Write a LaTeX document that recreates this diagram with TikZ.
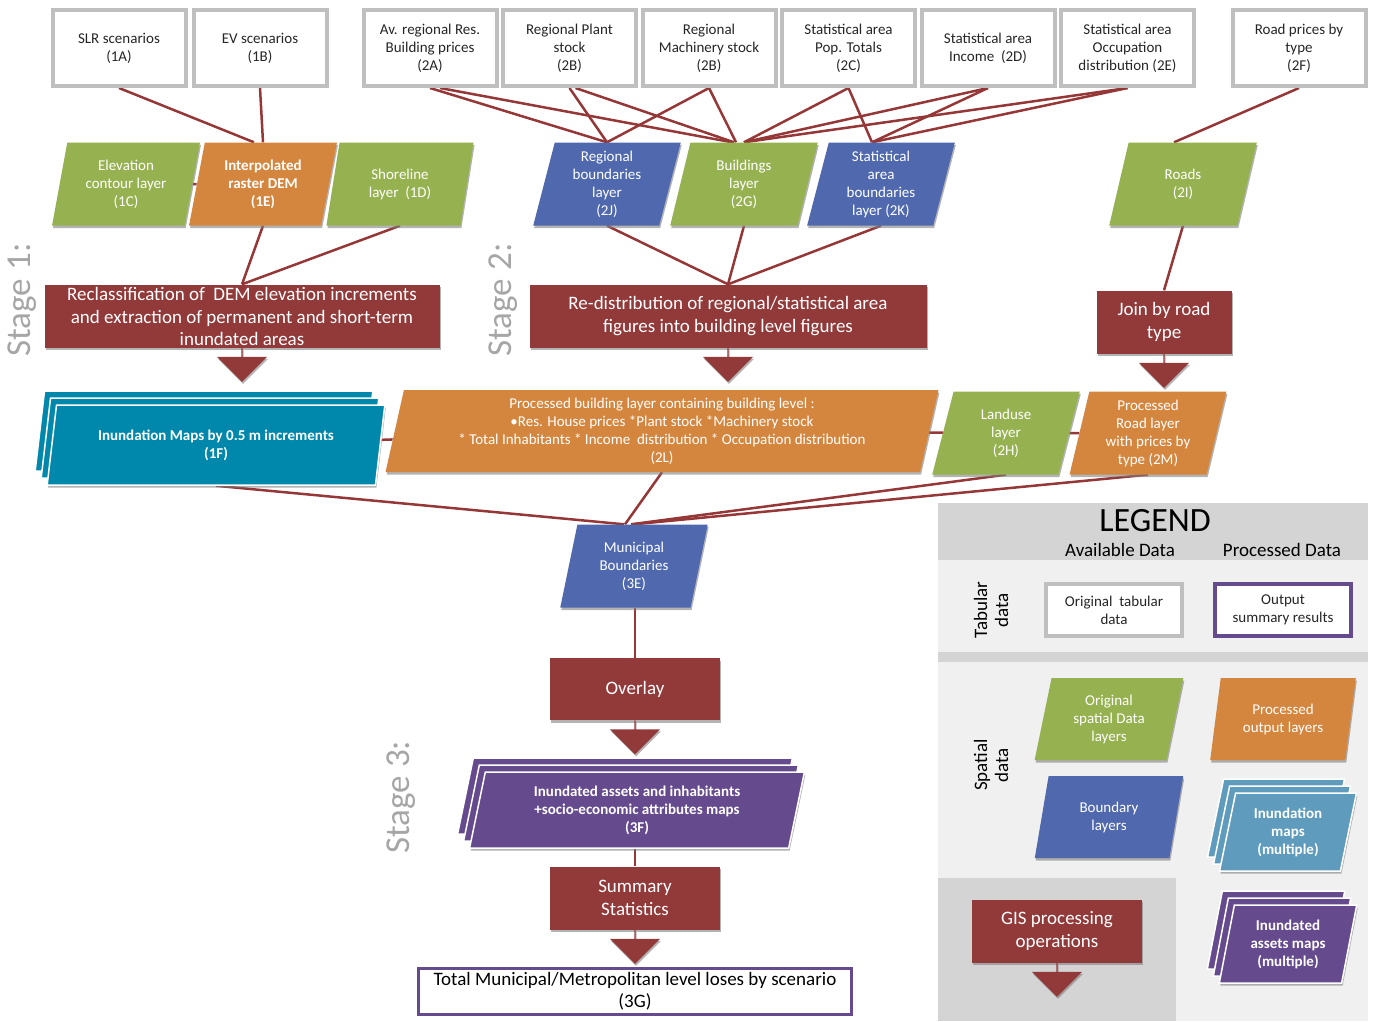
\documentclass[tikz,border=0pt]{standalone}
\usepackage{fontspec}
\setmainfont{Carlito}
\usepackage{tikz}
\usetikzlibrary{shapes.geometric,shapes.arrows,arrows,positioning,backgrounds,shadows}
\definecolor{procred}{RGB}{146,57,57}
\definecolor{linkred}{RGB}{150,55,55}
\definecolor{layergreen}{RGB}{150,178,80}
\definecolor{layerorange}{RGB}{213,134,62}
\definecolor{layerblue}{RGB}{80,105,174}
\definecolor{mapcyan}{RGB}{0,136,172}
\definecolor{mapblue}{RGB}{94,155,189}
\definecolor{mappurple}{RGB}{102,74,142}
\definecolor{boxgray}{RGB}{191,191,191}
\definecolor{stagegray}{RGB}{166,166,166}
\definecolor{legenddark}{RGB}{212,212,212}
\definecolor{legendlight}{RGB}{240,240,240}
\definecolor{textdark}{RGB}{38,38,38}

\begin{document}
\begin{tikzpicture}[x=1pt, y=-1pt, node distance=140pt]
\tikzstyle{tablebox} = [rectangle, draw=boxgray, line width=4pt, fill=white, minimum width=133pt, minimum height=76pt, inner sep=2pt, align=center, text=textdark, font=\fontsize{15}{18}\selectfont]
\tikzstyle{layerbox} = [trapezium, trapezium left angle=78, trapezium right angle=102, trapezium stretches=true, minimum width=148pt, minimum height=83pt, inner sep=1pt, align=center, text=white, font=\fontsize{15}{18}\selectfont, drop shadow={shadow xshift=1pt, shadow yshift=-2.5pt, opacity=.6}]
\tikzstyle{boldlayer} = [layerbox, font=\fontsize{15}{18}\selectfont\bfseries]
\tikzstyle{process} = [rectangle, fill=procred, minimum height=63pt, inner sep=3pt, align=center, text=white, font=\fontsize{19}{22.5}\selectfont, drop shadow={shadow xshift=1pt, shadow yshift=-2.5pt, opacity=.6}]
\tikzstyle{downarrow} = [single arrow, fill=procred, shape border rotate=270, minimum width=50pt, minimum height=34pt, single arrow head extend=8pt, inner sep=0pt, drop shadow={shadow xshift=1pt, shadow yshift=-2pt, opacity=.6}]
\tikzstyle{link} = [draw=linkred, line width=2.5pt]
\tikzstyle{stagelabel} = [rotate=90, text=stagegray, font=\fontsize{35}{35}\selectfont]
\tikzset{mapstack/.style={boldlayer, fill=#1, draw=white, line width=1.5pt, double copy shadow={shadow xshift=-6pt, shadow yshift=7pt, fill=#1, draw=white}}}
\useasboundingbox (0,0) rectangle (1375,1021);

% legend panel
\fill[legendlight] (938,503) rectangle (1368,1021);
\fill[legenddark] (938,503) rectangle (1368,560);
\fill[legenddark] (938,652) rectangle (1368,662);
\fill[legenddark] (938,878) rectangle (1176,1021);

% stage 1 and 2 inputs
\node (SLR) [tablebox] at (119,48) {SLR scenarios\\(1A)};
\node (EV) [tablebox, right of=SLR, node distance=141pt] {EV scenarios\\(1B)};
\node (BldPrices) [tablebox] at (430,48) {Av. regional Res.\\Building prices\\(2A)};
\node (PlantStock) [tablebox, right of=BldPrices, node distance=139.5pt] {Regional Plant\\stock\\(2B)};
\node (MachStock) [tablebox, right of=PlantStock, node distance=139.5pt] {Regional\\Machinery stock\\(2B)};
\node (PopTotals) [tablebox, right of=MachStock, node distance=139.5pt] {Statistical area\\Pop. Totals\\(2C)};
\node (Income) [tablebox, right of=PopTotals, node distance=139.5pt] {Statistical area\\Income~ (2D)};
\node (Occupation) [tablebox, right of=Income, node distance=139.5pt] {Statistical area\\Occupation\\distribution (2E)};
\node (RoadPrices) [tablebox] at (1299,48) {Road prices by\\type\\(2F)};

\node (Elevation) [layerbox, fill=layergreen] at (126,184) {Elevation\\contour layer\\(1C)};
\node (DEM) [boldlayer, fill=layerorange, right of=Elevation, node distance=137pt] {Interpolated\\raster DEM\\(1E)};
\node (Shoreline) [layerbox, fill=layergreen, right of=DEM, node distance=137pt] {Shoreline\\layer~ (1D)};
\node (RegBound) [layerbox, fill=layerblue] at (607,184) {Regional\\boundaries\\layer\\(2J)};
\node (Buildings) [layerbox, fill=layergreen, right of=RegBound, node distance=137pt] {Buildings\\layer\\(2G)};
\node (StatBound) [layerbox, fill=layerblue, right of=Buildings, node distance=137pt] {Statistical\\area\\boundaries\\layer (2K)};
\node (Roads) [layerbox, fill=layergreen] at (1183,184) {Roads\\(2I)};

% gis operations
\node (Reclass) [process, minimum width=395pt, inner ysep=0pt, text height=61pt, text depth=2pt] at (242,316) {Reclassification of~ DEM elevation increments\\and extraction of permanent and short-term\\inundated areas};
\node (Redist) [process, minimum width=397pt] at (728,316) {Re-distribution of regional/statistical area\\figures into building level figures};
\node (JoinRoad) [process, minimum width=135pt] at (1164,322) {Join by road\\type};
\node (ReclassArrow) [downarrow, anchor=tail] at (Reclass.south) {};
\node (RedistArrow) [downarrow, anchor=tail] at (Redist.south) {};
\node (JoinArrow) [downarrow, anchor=tail] at (JoinRoad.south) {};

% processed layers
\node (InundMaps) [mapstack=mapcyan, minimum width=338pt, minimum height=80pt] at (216,445) {Inundation Maps by 0.5 m increments\\(1F)};
\node (ProcBuild) [layerbox, fill=layerorange, minimum width=555pt, minimum height=82pt] at (662,431) {Processed building layer containing building level :\\•Res. House prices *Plant stock *Machinery stock\\* Total Inhabitants * Income~ distribution * Occupation distribution\\(2L)};
\node (Landuse) [layerbox, fill=layergreen] at (1006,433) {Landuse\\layer\\(2H)};
\node (ProcRoad) [layerbox, fill=layerorange, minimum width=157pt] at (1148,433) {Processed\\Road layer\\with prices by\\type (2M)};

% stage 3
\node (MunBound) [layerbox, fill=layerblue] at (634,566) {Municipal\\Boundaries\\(3E)};
\node (Overlay) [process, minimum width=170pt, minimum height=62pt] at (635,689) {Overlay};
\node (OverlayArrow) [downarrow, anchor=tail] at (Overlay.south) {};
\node (InundAssets) [mapstack=mappurple, minimum width=335pt, minimum height=76pt] at (637,810) {Inundated assets and inhabitants\\+socio-economic attributes maps\\(3F)};
\node (Summary) [process, minimum width=170pt] at (635,898) {Summary\\Statistics};
\node (SummaryArrow) [downarrow, anchor=tail] at (Summary.south) {};
\node (TotalLoss) [rectangle, draw=mappurple, line width=3pt, fill=white, minimum width=433pt, minimum height=46pt, inner sep=1pt, align=center, font=\fontsize{19}{22}\selectfont] at (635,991) {Total Municipal/Metropolitan level loses by scenario\\(3G)};

\node (Stage1) [stagelabel] at (22,300) {Stage 1:};
\node (Stage2) [stagelabel] at (503,300) {Stage 2:};
\node (Stage3) [stagelabel] at (401,797) {Stage 3:};

% legend entries
\node (LegendTitle) [font=\fontsize{34}{34}\selectfont] at (1155,521) {LEGEND};
\node (AvailData) [font=\fontsize{19}{22}\selectfont] at (1120,550) {Available Data};
\node (ProcData) [font=\fontsize{19}{22}\selectfont] at (1282,550) {Processed Data};
\node (TabularData) [rotate=90, align=center, font=\fontsize{19}{21}\selectfont] at (991,610) {Tabular\\data};
\node (SpatialData) [rotate=90, align=center, font=\fontsize{19}{21}\selectfont] at (991,765) {Spatial\\data};
\node (OrigTable) [tablebox, line width=3.5pt, minimum width=136pt, minimum height=52pt] at (1114,610) {Original~ tabular\\data};
\node (OutSummary) [tablebox, draw=mappurple, line width=3.5pt, minimum width=136pt, minimum height=52pt] at (1283,610) {Output\\summary results};
\node (OrigSpatial) [layerbox, fill=layergreen, minimum width=149pt, minimum height=82pt] at (1109,719) {Original\\spatial Data\\layers};
\node (ProcOutput) [layerbox, fill=layerorange, minimum width=147pt, minimum height=82pt] at (1283,719) {Processed\\output layers};
\node (BoundLayers) [layerbox, fill=layerblue, minimum width=149pt, minimum height=82pt] at (1109,817) {Boundary\\layers};
\node (MapsMulti) [mapstack=mapblue, minimum width=138pt, minimum height=78pt] at (1288,832) {Inundation\\maps\\(multiple)};
\node (AssetsMulti) [mapstack=mappurple, minimum width=138pt, minimum height=78pt] at (1288,944) {Inundated\\assets maps\\(multiple)};
\node (GISops) [process, minimum width=170pt] at (1057,931) {GIS processing\\operations};
\node (GISArrow) [downarrow, anchor=tail] at (GISops.south) {};

% connectors
\begin{scope}[on background layer]
\draw [link] (SLR.south) -- ([xshift=-9pt]DEM.north);
\draw [link] (EV.south) -- (DEM.north);
\draw [link] (BldPrices.south) -- (RegBound.north);
\draw [link] ([xshift=10pt]BldPrices.south) -- ([xshift=-12pt]Buildings.north);
\draw [link] (PlantStock.south) -- (RegBound.north);
\draw [link] ([xshift=6pt]PlantStock.south) -- ([xshift=-10pt]Buildings.north);
\draw [link] (MachStock.south) -- (RegBound.north);
\draw [link] (MachStock.south) -- ([xshift=-8pt]Buildings.north);
\draw [link] (PopTotals.south) -- (Buildings.north);
\draw [link] (PopTotals.south) -- ([xshift=-9pt]StatBound.north);
\draw [link] (Income.south) -- (Buildings.north);
\draw [link] (Income.south) -- ([xshift=-9pt]StatBound.north);
\draw [link] (Occupation.south) -- (Buildings.north);
\draw [link] (Occupation.south) -- ([xshift=-9pt]StatBound.north);
\draw [link] (RoadPrices.south) -- ([xshift=-9pt]Roads.north);
\draw [link] (Elevation) -- (DEM);
\draw [link] (DEM.south) -- (Reclass.north);
\draw [link] (Shoreline.south) -- (Reclass.north);
\draw [link] (RegBound.south) -- (Redist.north);
\draw [link] (Buildings.south) -- (Redist.north);
\draw [link] (StatBound.south) -- (Redist.north);
\draw [link] (Roads.south) -- (JoinRoad.north);
\draw [link] (InundMaps) -- (ProcBuild);
\draw [link] (ProcBuild) -- (Landuse);
\draw [link] (Landuse) -- (ProcRoad);
\draw [link] (InundMaps.south) -- ([xshift=-10pt]MunBound.north);
\draw [link] (ProcBuild.south) -- ([xshift=-9pt]MunBound.north);
\draw [link] (Landuse.south) -- ([xshift=-3pt]MunBound.north);
\draw [link] (ProcRoad.south) -- (MunBound.north);
\draw [link] (Overlay.north |- MunBound.south) -- (Overlay.north);
\draw [link] (Summary.north |- InundAssets.south) -- (Summary.north);
\end{scope}
\end{tikzpicture}
\end{document}
